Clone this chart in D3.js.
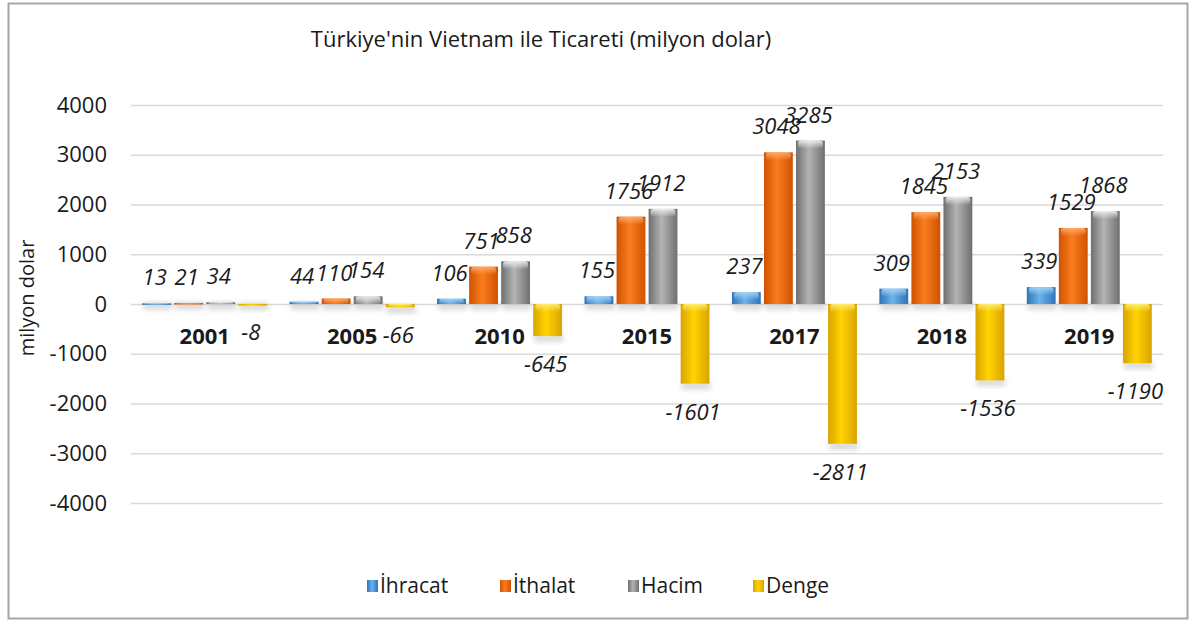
<!DOCTYPE html>
<html>
<head>
<meta charset="utf-8">
<script src="https://cdn.jsdelivr.net/npm/d3@7"></script>
<style>
  body { margin: 0; background: #fff; }
  text { font-family: "Open Sans", "Noto Sans", sans-serif; fill: #1a1a1a; }
</style>
</head>
<body>
<svg id="chart" width="1195" height="623"></svg>
<script>
var years = ["2001", "2005", "2010", "2015", "2017", "2018", "2019"];
var seriesNames = ["İhracat", "İthalat", "Hacim", "Denge"];
var ihracat = [13, 44, 106, 155, 237, 309, 339];
var ithalat = [21, 110, 751, 1756, 3048, 1845, 1529];
var hacim = [34, 154, 858, 1912, 3285, 2153, 1868];
var denge = [-8, -66, -645, -1601, -2811, -1536, -1190];
var yTicks = [4000, 3000, 2000, 1000, 0, -1000, -2000, -3000, -4000];

var series = [ihracat, ithalat, hacim, denge];

// colours per series: [edge, centre, highlight]
var colours = [
  ["#2f74b5", "#6cb2ec", "#a9d6f7"],
  ["#cf5200", "#fb7d1f", "#ffb070"],
  ["#6f6f6f", "#b4b4b4", "#f2f2f2"],
  ["#d9a300", "#ffd400", "#fff07a"]
];

var svg = d3.select("#chart");
var defs = svg.append("defs");

colours.forEach(function(c, i) {
  var g = defs.append("linearGradient").attr("id", "grad" + i)
    .attr("x1", "0").attr("x2", "1").attr("y1", "0").attr("y2", "0");
  g.append("stop").attr("offset", "0%").attr("stop-color", c[0]);
  g.append("stop").attr("offset", "45%").attr("stop-color", c[1]);
  g.append("stop").attr("offset", "100%").attr("stop-color", c[0]);
  var t = defs.append("linearGradient").attr("id", "top" + i)
    .attr("x1", "0").attr("x2", "0").attr("y1", "0").attr("y2", "1");
  t.append("stop").attr("offset", "0%").attr("stop-color", c[2]).attr("stop-opacity", 0.9);
  t.append("stop").attr("offset", "100%").attr("stop-color", c[2]).attr("stop-opacity", 0);
});

var shadow = defs.append("filter").attr("id", "shadow")
  .attr("x", "-30%").attr("y", "-30%").attr("width", "160%").attr("height", "160%");
shadow.append("feGaussianBlur").attr("stdDeviation", 2.5);

// outer frame
svg.append("rect")
  .attr("x", 8.5).attr("y", 3.5).attr("width", 1179).attr("height", 615)
  .attr("fill", "none").attr("stroke", "#a6a6a6").attr("stroke-width", 2);

svg.append("text")
  .attr("x", 541).attr("y", 47)
  .attr("text-anchor", "middle")
  .style("font-size", "22px")
  .text("Türkiye'nin Vietnam ile Ticareti (milyon dolar)");

var left = 131, right = 1163;

var y = d3.scaleLinear().domain([-4000, 4000]).range([503, 105]);

var x0 = d3.scaleBand().domain(years).range([left, right]);
var x1 = d3.scaleBand().domain(d3.range(4))
  .range([0, x0.bandwidth()]).paddingInner(0.1).paddingOuter(0.35);

// gridlines + tick labels
var yAxis = d3.axisLeft(y).tickValues(yTicks)
  .tickFormat(function(d) { return String(d); })
  .tickSize(-(right - left)).tickPadding(24);

var ga = svg.append("g").attr("transform", "translate(" + left + ",0)").call(yAxis);
ga.select(".domain").remove();
ga.selectAll(".tick line").attr("stroke", "#d9d9d9").attr("stroke-width", 1.5);
ga.selectAll(".tick text")
  .style("font-size", "22px")
  .style("font-family", "'Open Sans', sans-serif")
  .attr("fill", "#1a1a1a");

svg.append("text")
  .attr("transform", "translate(34,298) rotate(-90)")
  .attr("text-anchor", "middle")
  .style("font-size", "20px")
  .text("milyon dolar");

var groups = svg.append("g").selectAll("g")
  .data(years)
  .enter().append("g")
  .attr("transform", function(d) { return "translate(" + x0(d) + ",0)"; });

function barData(yi) {
  return series.map(function(s, si) { return { s: si, v: s[yi] }; });
}

// soft shadows
groups.each(function(yr, yi) {
  d3.select(this).selectAll("rect.sh")
    .data(barData(yi))
    .enter().append("rect")
    .attr("class", "sh")
    .attr("x", function(d) { return x1(d.s) + 1; })
    .attr("width", x1.bandwidth())
    .attr("y", function(d) { return d.v >= 0 ? y(0) - 2 : y(d.v) - 2; })
    .attr("height", 8)
    .attr("fill", "#b8b8b8")
    .attr("opacity", 0.5)
    .attr("filter", "url(#shadow)");
});

groups.each(function(yr, yi) {
  var g = d3.select(this);
  var data = barData(yi);
  g.selectAll("rect.bar")
    .data(data)
    .enter().append("rect")
    .attr("class", "bar")
    .attr("x", function(d) { return x1(d.s); })
    .attr("width", x1.bandwidth())
    .attr("y", function(d) { return y(Math.max(0, d.v)); })
    .attr("height", function(d) { return Math.max(1.5, Math.abs(y(d.v) - y(0))); })
    .attr("fill", function(d) { return "url(#grad" + d.s + ")"; });
  g.selectAll("rect.hl")
    .data(data)
    .enter().append("rect")
    .attr("class", "hl")
    .attr("x", function(d) { return x1(d.s) + 2; })
    .attr("width", x1.bandwidth() - 4)
    .attr("y", function(d) { return y(Math.max(0, d.v)); })
    .attr("height", function(d) { return Math.min(8, Math.abs(y(d.v) - y(0))); })
    .attr("rx", 3)
    .attr("fill", function(d) { return "url(#top" + d.s + ")"; });
});

// year labels
groups.append("text")
  .attr("x", x0.bandwidth() / 2)
  .attr("y", 344)
  .attr("text-anchor", "middle")
  .style("font-size", "22px")
  .style("font-weight", "bold")
  .text(function(d) { return d; });

// value labels
groups.each(function(yr, yi) {
  d3.select(this).selectAll("text.val")
    .data(barData(yi))
    .enter().append("text")
    .attr("class", "val")
    .attr("x", function(d) { return x1(d.s) + x1.bandwidth() / 2 - 2; })
    .attr("y", function(d) { return d.v >= 0 ? y(d.v) - 18 : y(d.v) + 36; })
    .attr("text-anchor", "middle")
    .style("font-size", "22px")
    .style("font-style", "italic")
    .text(function(d) { return d.v; });
});

// legend
var legendX = [367, 500, 628, 753];
var legend = svg.append("g").selectAll("g")
  .data(seriesNames)
  .enter().append("g")
  .attr("transform", function(d, i) { return "translate(" + legendX[i] + ",578)"; });

legend.append("rect")
  .attr("width", 11).attr("height", 12).attr("y", 2)
  .attr("fill", function(d, i) { return "url(#grad" + i + ")"; });

legend.append("text")
  .attr("x", 13).attr("y", 15)
  .style("font-size", "21px")
  .text(function(d) { return d; });
</script>
</body>
</html>
